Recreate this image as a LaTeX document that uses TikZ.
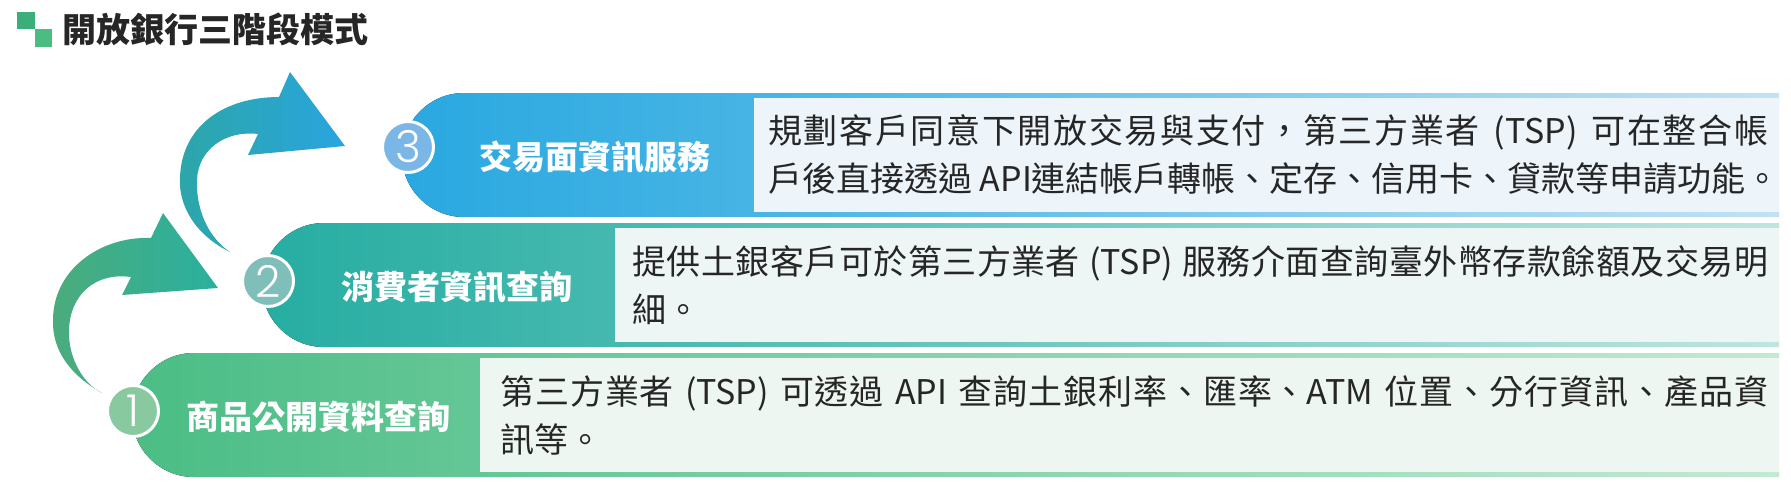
\documentclass[tikz,border=0pt]{standalone}
\usepackage{fontspec}
\setmainfont{Noto Sans CJK TC}
\IfFontExistsTF{Poppins Light}{\newfontfamily\digitfont{Poppins Light}}{\newfontfamily\digitfont{Poppins}}
\XeTeXinterchartokenstate=1
\newcount\cjkc
\cjkc="4E00
\loop \XeTeXcharclass\cjkc=1 \advance\cjkc by 1 \ifnum\cjkc<"A000 \repeat
\XeTeXcharclass"FF0C=1 \XeTeXcharclass"3001=1 \XeTeXcharclass"3002=1
\XeTeXinterchartoks 1 1 = {\hskip 0pt plus 1pt\relax}
\definecolor{bthree}{HTML}{29A8E0}
\definecolor{bthreeL}{HTML}{C2E2F4}
\definecolor{btwo}{HTML}{27ADA2}
\definecolor{btwoL}{HTML}{BFE5DF}
\definecolor{bone}{HTML}{4BBD85}
\definecolor{boneL}{HTML}{C3E9D3}
\definecolor{cthree}{HTML}{7AB7E7}
\definecolor{ctwo}{HTML}{80BFB9}
\definecolor{cone}{HTML}{88C9A0}
\definecolor{xthree}{HTML}{EDF5FB}
\definecolor{xtwo}{HTML}{EEF6F5}
\definecolor{xone}{HTML}{EEF6F1}
\definecolor{txt}{HTML}{262626}
\definecolor{sqA}{HTML}{3BAF7A}
\definecolor{sqB}{HTML}{4CBD80}
\definecolor{aL}{HTML}{4BAC7C}
\definecolor{aR}{HTML}{2AB09F}
\definecolor{bL}{HTML}{2CA6A8}
\definecolor{bR}{HTML}{29A5DF}
\newcommand\drawband[6]{%
  \begin{scope}
    \clip (1779,#1) -- ({#2+62},#1) arc[start angle=90,end angle=270,radius=62pt] -- (1779,{#1+124}) -- cycle;
    \fill[left color=#4, right color=#4!86!white] (#2,#1) rectangle (#3,{#1+124});
    \fill[left color=#4!86!white, right color=#5] (#3,#1) rectangle (1779,{#1+124});
  \end{scope}
  \fill[#6] (#3,{#1+5}) rectangle (1779,{#1+119});
}
\tikzset{
  numcirc/.style={circle, draw=white, line width=3pt, minimum size=51pt, inner sep=0pt,
    text=white, font=\digitfont\fontsize{44}{44}\selectfont},
  bandlabel/.style={text=white, inner sep=0pt, font=\bfseries\fontsize{33}{33}\selectfont},
  desc/.style={anchor=west, text=txt, inner sep=0pt, align=left, font=\fontsize{34}{48}\selectfont},
}
\begin{document}
\begin{tikzpicture}[x=1pt,y=-1pt]
\useasboundingbox (0,0) rectangle (1791,491);
% title
\fill[sqA] (17,12) rectangle (35,29);
\fill[sqB] (35,29) rectangle (52,47);
\node[anchor=west, inner sep=0pt, text=txt, font=\bfseries\fontsize{34}{34}\selectfont] (title) at (62,29) {開放銀行三階段模式};
% arrows
\shade[left color=aL, right color=aR] (102,393) .. controls (70,375) and (52,350) .. (53,320) .. controls (53,270) and (100,236) .. (151,238) -- (163,213) -- (218,288) -- (122,295) -- (131,277) .. controls (95,272) and (70,295) .. (69,330) .. controls (68,360) and (85,385) .. (102,393) -- cycle;
\shade[left color=bL, right color=bR] (230,252) .. controls (195,235) and (178,205) .. (180,177) .. controls (182,125) and (225,97) .. (279,97) -- (290,72) -- (345,146) -- (248,155) -- (258,134) .. controls (225,130) and (198,150) .. (197,180) .. controls (196,215) and (212,240) .. (230,252) -- cycle;
% bands
\drawband{93}{402}{754}{bthree}{bthreeL}{xthree}
\drawband{223}{262}{615}{btwo}{btwoL}{xtwo}
\drawband{353}{132}{480}{bone}{boneL}{xone}
% circles
\node[numcirc, fill=cthree] (c3) at (408,147) {3};
\node[numcirc, fill=ctwo] (c2) at (268,281) {2};
\node[numcirc, fill=cone] (c1) at (133,411) {1};
% labels
\node[bandlabel] (l3) at (595,157) {交易面資訊服務};
\node[bandlabel] (l2) at (457,287) {消費者資訊查詢};
\node[bandlabel] (l1) at (318,417) {商品公開資料查詢};
% descriptions
\node[desc] (t3) at (768,155) {\makebox[1000pt][s]{規劃客戶同意下開放交易與支付，第三方業者 (TSP) 可在整合帳}\\戶後直接透過 API連結帳戶轉帳、定存、信用卡、貸款等申請功能。};
\node[desc] (t2) at (632,285) {\makebox[1136pt][s]{提供土銀客戶可於第三方業者 (TSP) 服務介面查詢臺外幣存款餘額及交易明}\\細。};
\node[desc] (t1) at (500,415) {\makebox[1268pt][s]{第三方業者 (TSP) 可透過 API 查詢土銀利率、匯率、ATM 位置、分行資訊、產品資}\\訊等。};
\end{tikzpicture}
\end{document}
